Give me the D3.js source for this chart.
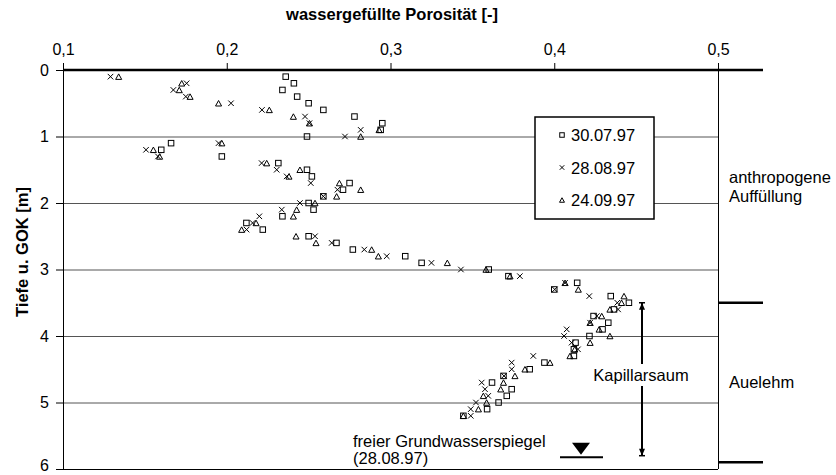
<!DOCTYPE html>
<html><head><meta charset="utf-8">
<script src="https://cdn.jsdelivr.net/npm/d3@7"></script>
<style>body{margin:0;background:#fff}svg{display:block}text{font-family:"Liberation Sans",Arial,sans-serif}</style>
</head><body><svg id="c" width="836" height="475"></svg>
<script>
const depths = [0.1,0.2,0.3,0.4,0.5,0.6,0.7,0.8,0.9,1.0,1.1,1.2,1.3,1.4,1.5,1.6,1.7,1.8,1.9,2.0,2.1,2.2,2.3,2.4,2.5,2.6,2.7,2.8,2.9,3.0,3.1,3.2,3.3,3.4,3.5,3.6,3.7,3.8,3.9,4.0,4.1,4.2,4.3,4.4,4.5,4.6,4.7,4.8,4.9,5.0,5.1,5.2];
const s300797 = [0.236,0.241,0.234,0.243,0.250,0.259,0.278,0.295,0.294,0.249,0.166,0.160,0.197,0.2315,0.249,0.252,0.275,0.271,0.259,0.250,0.253,0.234,0.212,0.222,0.250,0.267,0.277,0.309,0.319,0.360,0.372,0.414,0.400,0.4345,0.4456,0.4365,0.424,0.433,0.4295,0.4215,0.413,0.412,0.412,0.394,0.385,0.369,0.362,0.374,0.371,0.366,0.359,0.3445];
const s280897 = [0.129,0.1755,0.1674,0.175,0.2026,0.2215,0.2478,0.2505,0.2818,0.2722,0.195,0.1507,0.158,0.2213,0.2305,0.2366,0.2513,0.2676,0.259,0.2447,0.2336,0.2199,0.2158,0.2121,0.2539,0.2641,0.284,0.2977,0.325,0.343,0.379,0.4066,0.4003,0.4214,0.4385,0.439,0.426,0.4219,0.4076,0.406,0.4106,0.4145,0.3872,0.374,0.374,0.3693,0.3557,0.3577,0.3597,0.3522,0.349,0.349];
const s240997 = [0.134,0.1725,0.171,0.1776,0.195,0.226,0.2407,0.2505,0.293,0.2818,0.197,0.1552,0.159,0.2244,0.2447,0.238,0.2688,0.2818,0.2671,0.2539,0.2427,0.2407,0.2179,0.2091,0.2423,0.2545,0.2885,0.2926,0.3347,0.3583,0.373,0.4066,0.4147,0.4426,0.4411,0.434,0.429,0.4219,0.4274,0.434,0.4219,0.4125,0.4096,0.3974,0.3821,0.376,0.369,0.3673,0.3567,0.3587,0.3537,0.3445];
const seriesNames = ["30.07.97","28.08.97","24.09.97"];
const xTicks = [0.1,0.2,0.3,0.4,0.5];
const yTicks = [0,1,2,3,4,5,6];
const gridDepths = [1,2,3,4,5];
const layerBounds = [0,3.5,5.9];
const layerNames = [["anthropogene","Auffüllung"],["Auelehm"]];
const kapillar = [3.5,5.8];
const gwDepth = 5.8;

const svg = d3.select("#c");
const F = '"Liberation Sans",Arial,sans-serif';
const x = d3.scaleLinear().domain([0.1,0.5]).range([63,718]);
const y = d3.scaleLinear().domain([0,6]).range([70,469]);

svg.append("g").selectAll("line").data(gridDepths).join("line")
  .attr("x1",x(0.1)).attr("x2",x(0.5)).attr("y1",d=>y(d)+0.5).attr("y2",d=>y(d)+0.5)
  .attr("stroke","#555").attr("stroke-width",1);
svg.append("line").attr("x1",x(0.5)+0.5).attr("x2",x(0.5)+0.5).attr("y1",y(0)).attr("y2",y(6)).attr("stroke","#000");
svg.append("line").attr("x1",x(0.1)).attr("x2",x(0.5)).attr("y1",y(6)+0.5).attr("y2",y(6)+0.5).attr("stroke","#000");
svg.append("line").attr("x1",x(0.1)).attr("x2",763).attr("y1",y(0)).attr("y2",y(0)).attr("stroke","#000").attr("stroke-width",2.5);
svg.append("g").selectAll("line").data(layerBounds.slice(1)).join("line")
  .attr("x1",x(0.5)).attr("x2",763).attr("y1",d=>y(d)).attr("y2",d=>y(d)).attr("stroke","#000").attr("stroke-width",2.5);

const xa = svg.append("g").attr("transform",`translate(0,${y(0)})`)
  .call(d3.axisTop(x).tickValues(xTicks).tickSize(7).tickPadding(8).tickFormat(d=>d3.format(".1f")(d).replace(".",",")));
xa.select(".domain").remove();
xa.selectAll("line").attr("stroke","#000");
xa.selectAll("text").attr("font-family",F).attr("font-size","16px").attr("fill","#000");
const ya = svg.append("g").attr("transform",`translate(${x(0.1)},0)`)
  .call(d3.axisLeft(y).tickValues(yTicks).tickSize(7).tickPadding(7).tickFormat(d3.format("d")));
ya.select(".domain").attr("stroke","#000").attr("d",`M0.5,${y(0)}V${y(6)}`);
ya.selectAll("line").attr("stroke","#000");
ya.selectAll("text").attr("font-family",F).attr("font-size","16px").attr("fill","#000");
ya.selectAll(".tick").filter(d=>d===6).select("text").attr("dy","0.1em");

svg.append("text").attr("x",392).attr("y",20).attr("text-anchor","middle").attr("font-weight","bold").attr("font-size","16.5px").text("wassergefüllte Porosität [-]");
svg.append("text").attr("transform","translate(28,252) rotate(-90)").attr("text-anchor","middle").attr("font-weight","bold").attr("font-size","16.5px").text("Tiefe u. GOK [m]");

function sym(g,type,s){
  const h=s/2;
  if(type===0) return g.append("rect").attr("x",-h).attr("y",-h).attr("width",s).attr("height",s).attr("fill","none").attr("stroke","#000").attr("stroke-width",1);
  if(type===1) return g.append("path").attr("d",`M${-h},${-h}L${h},${h}M${-h},${h}L${h},${-h}`).attr("fill","none").attr("stroke","#000").attr("stroke-width",1);
  return g.append("path").attr("d",`M0,${-h}L${h*1.1},${h}L${-h*1.1},${h}Z`).attr("fill","none").attr("stroke","#000").attr("stroke-width",1);
}
const allSeries=[s300797,s280897,s240997];
allSeries.forEach((vals,si)=>{
  const g=svg.append("g");
  g.selectAll("g").data(vals.map((v,i)=>({v,d:depths[i]}))).join("g")
   .attr("transform",d=>`translate(${x(d.v)},${y(d.d)})`)
   .each(function(){ sym(d3.select(this),si,5.5); });
});

const lg=svg.append("g");
lg.append("rect").attr("x",535).attr("y",117).attr("width",119).attr("height",102).attr("fill","#fff").attr("stroke","#000").attr("stroke-width",1.5);
seriesNames.forEach((n,i)=>{
  const yy=135+i*32.5;
  sym(lg.append("g").attr("transform",`translate(562,${yy})`),i,4.5);
  lg.append("text").attr("x",571).attr("y",yy+6).attr("font-size","16.5px").text(n);
});

const ax=642;
svg.append("line").attr("x1",ax).attr("x2",ax).attr("y1",y(kapillar[0])).attr("y2",y(kapillar[1])).attr("stroke","#000").attr("stroke-width",2);
svg.append("path").attr("d",`M${ax},${y(kapillar[0])}l-3,7h6z`).attr("fill","#000");
svg.append("path").attr("d",`M${ax},${y(kapillar[1])}l-3,-7h6z`).attr("fill","#000");
svg.append("line").attr("x1",ax-3).attr("x2",ax+3).attr("y1",y(kapillar[0])).attr("y2",y(kapillar[0])).attr("stroke","#000").attr("stroke-width",1.5);
svg.append("line").attr("x1",ax-3).attr("x2",ax+3).attr("y1",y(kapillar[1])).attr("y2",y(kapillar[1])).attr("stroke","#000").attr("stroke-width",1.5);
svg.append("rect").attr("x",592).attr("y",364).attr("width",100).attr("height",22).attr("fill","#fff");
svg.append("text").attr("x",641).attr("y",381).attr("text-anchor","middle").attr("font-size","16.5px").text("Kapillarsaum");

svg.append("text").attr("x",729).attr("y",183).attr("font-size","16.5px").text(layerNames[0][0]);
svg.append("text").attr("x",729).attr("y",202).attr("font-size","16.5px").text(layerNames[0][1]);
svg.append("text").attr("x",729).attr("y",388).attr("font-size","16.5px").text(layerNames[1][0]);

const gy=y(gwDepth);
svg.append("path").attr("d",`M572,${gy-13}h18l-9,12z`).attr("fill","#000");
svg.append("line").attr("x1",560).attr("x2",603).attr("y1",gy+1.5).attr("y2",gy+1.5).attr("stroke","#000").attr("stroke-width",2);
svg.append("text").attr("x",353).attr("y",447).attr("font-size","16.5px").text("freier Grundwasserspiegel");
svg.append("text").attr("x",353).attr("y",464).attr("font-size","16.5px").text("(28.08.97)");
</script></body></html>
